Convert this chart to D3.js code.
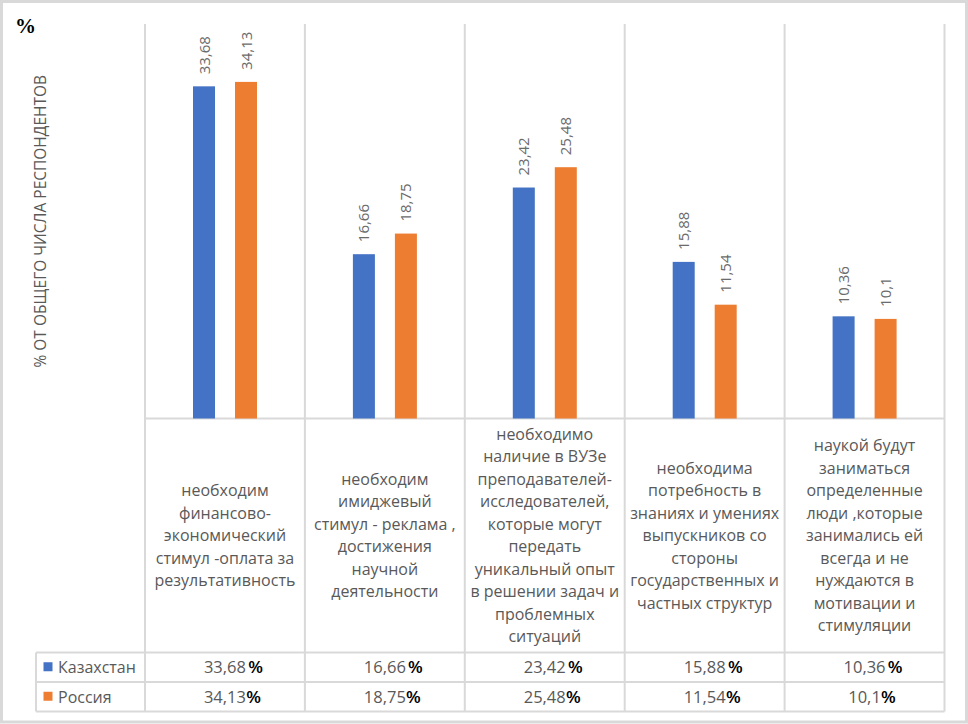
<!DOCTYPE html>
<html>
<head>
<meta charset="utf-8">
<script src="https://cdn.jsdelivr.net/npm/d3@7"></script>
<style>
  html, body { margin: 0; padding: 0; background: #ffffff; }
  svg { display: block; font-family: "Open Sans", "Noto Sans", sans-serif; }
</style>
</head>
<body>
<svg id="chart" width="968" height="724"></svg>
<script>
// ---- data ----
const categories = ["c1", "c2", "c3", "c4", "c5"];
const categoryLines = [
  ["необходим", "финансово-", "экономический", "стимул -оплата за", "результативность"],
  ["необходим", "имиджевый", "стимул - реклама ,", "достижения", "научной", "деятельности"],
  ["необходимо", "наличие в ВУЗе", "преподавателей-", "исследователей,", "которые могут", "передать", "уникальный опыт", "в решении задач и", "проблемных", "ситуаций"],
  ["необходима", "потребность в", "знаниях и умениях", "выпускников со", "стороны", "государственных и", "частных структур"],
  ["наукой будут", "заниматься", "определенные", "люди ,которые", "занимались ей", "всегда и  не", "нуждаются в", "мотивации и", "стимуляции"]
];
const seriesNames = ["Казахстан", "Россия"];
const kazakhstan = [33.68, 16.66, 23.42, 15.88, 10.36];
const russia = [34.13, 18.75, 25.48, 11.54, 10.1];
const seriesColors = ["#4472C4", "#ED7D31"];
const yAxisTitle = "% ОТ ОБЩЕГО ЧИСЛА РЕСПОНДЕНТОВ";
const unitTitle = "%";

const series = [kazakhstan, russia];
const fmt = v => String(v).replace(".", ",");

const svg = d3.select("#chart");
const gridColor = "#d9d9d9";
const textColor = "#595959";

// layout
const plotLeft = 145, plotRight = 944.5, plotTop = 24, baseY = 418.5;
const catRowBottom = 652.5, row1Bottom = 682, row2Bottom = 711.5, legendLeft = 36;

// outer border
svg.append("rect")
  .attr("x", 1.5).attr("y", 1.5).attr("width", 965).attr("height", 720.5)
  .attr("fill", "#fff").attr("stroke", gridColor).attr("stroke-width", 3);

// scales
const x0 = d3.scaleBand().domain(categories).range([plotLeft, plotRight]).padding(0);
const x1 = d3.scaleBand().domain(seriesNames).range([48, 112]).paddingInner(20 / 42).paddingOuter(0);
const y = d3.scaleLinear().domain([0, 40]).range([baseY, plotTop]);

// vertical gridlines (category boundaries, through table)
const bounds = categories.map(c => x0(c)).concat([x0.range()[1]]);
svg.append("g").selectAll("line").data(bounds).join("line")
  .attr("x1", d => d).attr("x2", d => d)
  .attr("y1", plotTop).attr("y2", row2Bottom)
  .attr("stroke", gridColor).attr("stroke-width", 2);

// horizontal table lines
svg.append("line").attr("x1", plotLeft).attr("x2", plotRight).attr("y1", baseY).attr("y2", baseY)
  .attr("stroke", gridColor).attr("stroke-width", 2);
[catRowBottom, row1Bottom, row2Bottom].forEach(yy => {
  svg.append("line").attr("x1", legendLeft).attr("x2", plotRight).attr("y1", yy).attr("y2", yy)
    .attr("stroke", gridColor).attr("stroke-width", 2);
});
svg.append("line").attr("x1", legendLeft).attr("x2", legendLeft).attr("y1", catRowBottom).attr("y2", row2Bottom)
  .attr("stroke", gridColor).attr("stroke-width", 2);

// bars
const barData = [];
categories.forEach((c, i) => {
  seriesNames.forEach((s, j) => barData.push({ c, s, j, v: series[j][i] }));
});
svg.append("g").selectAll("rect").data(barData).join("rect")
  .attr("x", d => x0(d.c) + x1(d.s))
  .attr("y", d => y(d.v))
  .attr("width", x1.bandwidth())
  .attr("height", d => y(0) - y(d.v))
  .attr("fill", d => seriesColors[d.j]);

// bar value labels (rotated)
svg.append("g").selectAll("text").data(barData).join("text")
  .attr("transform", d => `translate(${x0(d.c) + x1(d.s) + x1.bandwidth() / 2 + 5.5},${y(d.v) - 12}) rotate(-90)`)
  .attr("text-anchor", "start")
  .attr("font-size", 15)
  .attr("fill", "#6b6b6b")
  .text(d => fmt(d.v));

// category labels in table
const lineH = 22.5;
const catCenterY = (baseY + catRowBottom) / 2;
categories.forEach((c, i) => {
  const lines = categoryLines[i];
  const cx = x0(c) + x0.bandwidth() / 2;
  const startY = catCenterY - (lines.length - 1) * lineH / 2;
  const t = svg.append("text").attr("text-anchor", "middle").attr("font-size", 16).attr("fill", textColor);
  lines.forEach((ln, k) => {
    t.append("tspan").attr("x", cx).attr("y", startY + k * lineH + 5.5).text(ln);
  });
});

// legend column + value rows
const rowTops = [catRowBottom, row1Bottom];
const rowBottoms = [row1Bottom, row2Bottom];
seriesNames.forEach((s, j) => {
  const cy = (rowTops[j] + rowBottoms[j]) / 2;
  svg.append("rect").attr("x", 43.5).attr("y", cy - 4.5 - 0.5).attr("width", 9).attr("height", 9)
    .attr("fill", seriesColors[j]);
  svg.append("text").attr("x", 58).attr("y", cy + 6).attr("font-size", 16).attr("fill", textColor).text(s);
  categories.forEach((c, i) => {
    const cx = x0(c) + x0.bandwidth() / 2;
    const num = svg.append("text").attr("x", cx).attr("y", cy + 6).attr("text-anchor", "middle")
      .attr("font-size", 16.5).attr("fill", textColor).text(fmt(series[j][i]));
    const w = num.node().getComputedTextLength();
    svg.append("text").attr("x", cx + w / 2 + (j === 0 ? 2.5 : 0.5)).attr("y", cy + 6)
      .style("font-family", "'Liberation Sans', Arial, sans-serif").style("font-weight", "bold")
      .attr("font-size", 16).attr("fill", "#000").text("%");
  });
});

// unit title
svg.append("text").attr("x", 15).attr("y", 33)
  .style("font-family", "'Liberation Serif', 'Times New Roman', serif")
  .style("font-weight", "bold").attr("font-size", 21).attr("fill", "#000").text(unitTitle);

// y axis title
svg.append("text")
  .attr("transform", `translate(46,${(plotTop + baseY) / 2}) rotate(-90)`)
  .attr("text-anchor", "middle").attr("font-size", 15.5).attr("fill", textColor)
  .text(yAxisTitle);
</script>
</body>
</html>
